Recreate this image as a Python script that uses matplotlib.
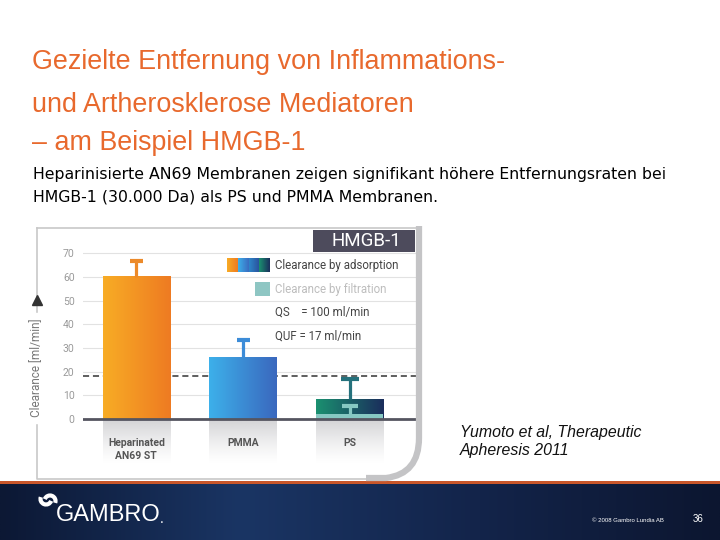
import numpy as np
import matplotlib
matplotlib.use("Agg")
import matplotlib.pyplot as plt
from matplotlib.colors import LinearSegmentedColormap, to_rgb
from matplotlib.patches import Rectangle, PathPatch, Arc
from matplotlib.path import Path

# -------------------------------
# DATA
# -------------------------------
categories = ["Heparinated\nAN69 ST", "PMMA", "PS"]
adsorption = [60, 26, 8.4]          # clearance by adsorption (ml/min)
adsorption_err = [6.7, 7.3, 8.6]    # upper error
filtration = [0, 0, 2]              # clearance by filtration (ml/min)
filtration_err = [0, 0, 3.5]
quf_line = 18
yticks = [0, 10, 20, 30, 40, 50, 60, 70]

bar_colors = [("#F8AC25", "#EE7B22"), ("#3DB0EA", "#3A68BE"), ("#1A9070", "#1B2E5C")]
err_colors = ["#EC8A2A", "#3C8CD8", "#25717C"]
filt_color = "#86C8C2"

title_lines = ["Gezielte Entfernung von Inflammations-",
               "und Artherosklerose Mediatoren",
               "– am Beispiel HMGB-1"]
subtitle_lines = ["Heparinisierte AN69 Membranen zeigen signifikant höhere Entfernungsraten bei",
                  "HMGB-1 (30.000 Da) als PS und PMMA Membranen."]

fig = plt.figure(figsize=(7.2, 5.4), dpi=100)

# ===============================
# CHART AXES
# ===============================
ax = fig.add_axes([83 / 720, (540 - 466.4) / 540, 335 / 720, 218 / 540], zorder=2)
ax.set_facecolor("none")
for s in ax.spines.values():
    s.set_visible(False)
ax.set_xticks([])
ax.set_yticks(yticks)
ax.tick_params(axis="y", length=0, pad=6, labelsize=7.5, labelcolor="#9a9a9a")
for lab in ax.get_yticklabels():
    lab.set_fontfamily("Roboto")

for t in yticks[1:]:
    ax.axhline(t, color="#e2e2e2", lw=0.8, zorder=0)
ax.axhline(quf_line, color="#333333", lw=1.1, ls=(0, (4, 2.5)), zorder=1)
ax.axhline(0, color="#555560", lw=2, zorder=5)

width = 0.63
px = 1 / 107.0        # one pixel in x data units
cap_px = [13, 13, 18]


def grad_h(ax, x0, x1, y0, y1, c1, c2, z):
    cmap = LinearSegmentedColormap.from_list("g", [c1, c2])
    ax.imshow(np.linspace(0, 1, 64).reshape(1, -1), cmap=cmap, aspect="auto",
              extent=[x0, x1, y0, y1], interpolation="bilinear", zorder=z)


def up_err(ax, x, y, e, cw, color, z):
    ax.plot([x, x], [y, y + e], color=color, lw=2.3, solid_capstyle="butt", zorder=z)
    ax.plot([x - cw / 2, x + cw / 2], [y + e, y + e], color=color, lw=3,
            solid_capstyle="butt", zorder=z)


for i, v in enumerate(adsorption):
    x0, x1 = i - width / 2, i + width / 2
    grad_h(ax, x0, x1, 0, v, bar_colors[i][0], bar_colors[i][1], 3)
    # reflection under the bar (row 0 = top, just under the baseline)
    rgba = np.zeros((64, 1, 4))
    rgba[..., :3] = to_rgb("#b4b4b8")
    rgba[:, 0, 3] = 0.6 * (1 - np.linspace(0, 1, 64)) ** 1.3
    ax.imshow(rgba, aspect="auto", extent=[x0, x1, -19, 0], interpolation="bilinear", zorder=2)
    up_err(ax, i, v, adsorption_err[i], cap_px[i] * px, err_colors[i], 4)
    if filtration[i] > 0:
        ax.add_patch(Rectangle((x0, 0), width, filtration[i], color=filt_color, zorder=4, lw=0))
        up_err(ax, i, filtration[i], filtration_err[i], 16 * px, filt_color, 4)

    ax.text(i, -10.2 if i else -12.9, categories[i], ha="center", va="center",
            fontsize=7.5, fontweight="bold", color="#555555", family="Roboto",
            linespacing=1.35, zorder=6)

ax.set_xlim(-0.5, 2.64)
ax.set_ylim(-20, 72)

# ===============================
# OVERLAY (pixel coordinates)
# ===============================
ov = fig.add_axes([0, 0, 1, 1], zorder=3)
ov.set_facecolor("none")
ov.axis("off")

# bottom banner
cmap_b = LinearSegmentedColormap.from_list("b", ["#0c1834", "#1a3564", "#13244a", "#0c1630"])
ov.imshow(np.linspace(0, 1, 256).reshape(1, -1), cmap=cmap_b, aspect="auto",
          extent=[0, 720, 540, 484], interpolation="bilinear", zorder=1)
ov.add_patch(Rectangle((0, 481), 720, 3, color="#c8562a", lw=0, zorder=2))

# chart frame
ov.plot([37, 37, 380], [228, 479, 479], color="#c8c8c8", lw=1.2, zorder=2)
ov.plot([37, 418], [228, 228], color="#c8c8c8", lw=1.2, zorder=2)
verts = [(419, 226), (419, 438), (419, 474), (386, 478), (366, 478)]
codes = [Path.MOVETO, Path.LINETO, Path.CURVE3, Path.CURVE3, Path.LINETO]
ov.add_patch(PathPatch(Path(verts, codes), fill=False, ec="#c4c4c6", lw=4.5, zorder=2))

# HMGB-1 box
ov.add_patch(Rectangle((313, 230), 102, 22, color="#4d4b5c", lw=0, zorder=2))
ov.text(366, 241.5, "HMGB-1", color="white", fontsize=13.5, ha="center", va="center",
        family="Roboto", zorder=3)

# legend
sw = [("#F8AC25", "#EE7B22"), ("#3DB0EA", "#3A6CC0"), ("#2E86C8", "#2A4E9A"), ("#1A9070", "#1B2E5C")]
for k, (c1, c2) in enumerate(sw):
    grad_h(ov, 227 + k * 10.75, 227 + (k + 1) * 10.75, 272, 258, c1, c2, 3)
ov.text(275, 265.5, "Clearance by adsorption", color="#444444", fontsize=8.3, va="center",
        family="Roboto", zorder=3)
ov.add_patch(Rectangle((255, 282), 15, 14, color="#8ec6c3", lw=0, zorder=3))
ov.text(275, 289.5, "Clearance by filtration", color="#bdbdbd", fontsize=8.3, va="center",
        family="Roboto", zorder=3)
ov.text(275, 312.5, "QS    = 100 ml/min", color="#444444", fontsize=8.3, va="center",
        family="Roboto", zorder=3)
ov.text(275, 336, "QUF = 17 ml/min", color="#444444", fontsize=8.3, va="center",
        family="Roboto", zorder=3)

# y label with arrow
ov.text(37, 368, "Clearance [ml/min]", rotation=90, ha="center", va="center", color="#777777",
        fontsize=8.5, family="Roboto", zorder=3, backgroundcolor="white")
ov.plot([37], [300], marker="^", ms=7, color="#333333", zorder=4)

# title and subtitle
title_base = [69, 112.5, 150]
for k, line in enumerate(title_lines):
    ov.text(32, title_base[k], line, color="#E8692D", fontsize=19.4, va="baseline",
            family="Liberation Sans", zorder=3)
sub_base = [179, 201.5]
for k, line in enumerate(subtitle_lines):
    ov.text(33, sub_base[k], line, color="black", fontsize=11.3, va="baseline",
            family="DejaVu Sans", zorder=3)

# citation
ov.text(460, 432, "Yumoto et al, Therapeutic", fontsize=11.4, style="italic", va="center",
        family="Liberation Sans", color="#111111", zorder=3)
ov.text(460, 451, "Apheresis 2011", fontsize=11.4, style="italic", va="center",
        family="Liberation Sans", color="#111111", zorder=3)

# logo
ov.add_patch(Arc((46, 499), 11, 11, theta1=20, theta2=200, color="white", lw=3, zorder=3))
ov.add_patch(Arc((50, 501), 11, 11, theta1=200, theta2=380, color="white", lw=3, zorder=3))
ov.text(56, 515, "GAMBRO", color="white", fontsize=17, va="center", family="Liberation Sans", zorder=3)
ov.text(160, 519, ".", color="white", fontsize=10, va="center", family="Liberation Sans", zorder=3)
ov.text(592, 521, "© 2008 Gambro Lundia AB", color="white", fontsize=4.3, va="center",
        family="Liberation Sans", zorder=3)
ov.text(693, 519, "36", color="white", fontsize=7, va="center", family="Liberation Sans", zorder=3)

ov.set_xlim(0, 720)
ov.set_ylim(540, 0)

fig.savefig("out.png", dpi=100)
